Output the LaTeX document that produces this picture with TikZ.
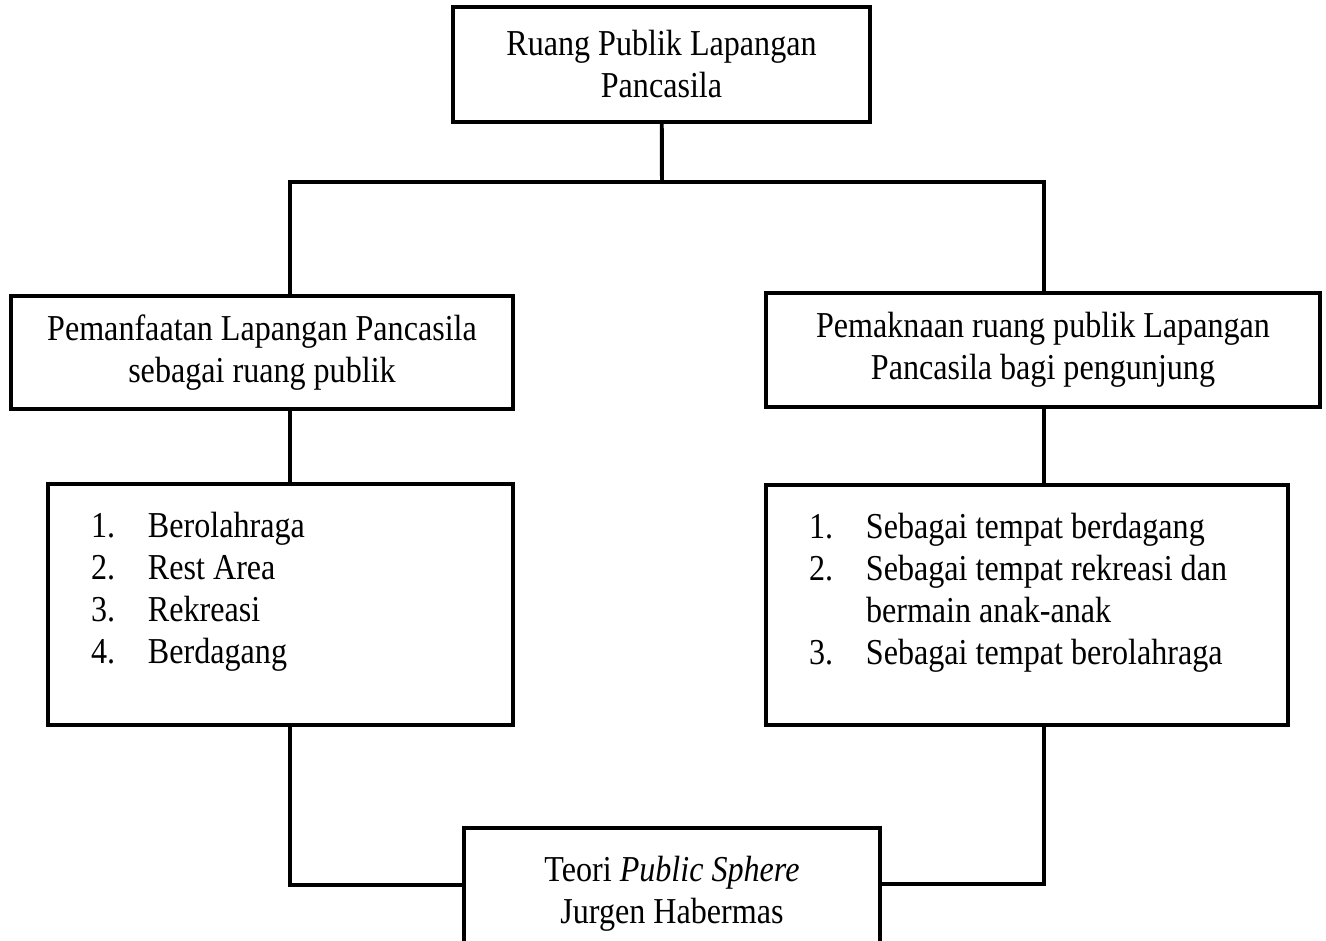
\documentclass[tikz,border=0pt]{standalone}
\usepackage{fontspec}
\setmainfont[FakeStretch=0.88]{Liberation Serif}
\newlength\px
\setlength\px{0.3289pt}
\newcommand{\numitem}[2]{\hspace*{43\px}\makebox[57\px][l]{#1}#2}
\tikzstyle{block} = [rectangle, draw=black, line width=1.3pt, inner sep=0pt, align=center, font=\fontsize{12}{13.8}\selectfont]
\tikzstyle{listbox} = [rectangle, draw=black, line width=1.3pt, inner sep=0pt, font=\fontsize{12}{13.8}\selectfont]
\tikzstyle{link} = [line width=1.3pt, line cap=rect]

\begin{document}
\begin{tikzpicture}[x=0.3289pt, y=-0.3289pt]

\useasboundingbox (0,0) rectangle (1326,941);
\clip (0,0) rectangle (1326,941);

\node (ruang) [block, minimum width=417\px, minimum height=115\px] at (661.5,64.5) {Ruang Publik Lapangan\\Pancasila};
\node (manfaat) [block, minimum width=502\px, minimum height=113\px] at (262,352.5) {Pemanfaatan Lapangan Pancasila\\sebagai ruang publik};
\node (makna) [block, minimum width=554\px, minimum height=114\px] at (1043,350) {Pemaknaan ruang publik Lapangan\\Pancasila bagi pengunjung};
\node (manfaatlist) [listbox, minimum width=465\px, minimum height=241\px] at (280.5,604.5) {\parbox[c][185\px][t]{465\px}{%
\numitem{1.}{Berolahraga}\\
\numitem{2.}{Rest Area}\\
\numitem{3.}{Rekreasi}\\
\numitem{4.}{Berdagang}}};
\node (maknalist) [listbox, minimum width=522\px, minimum height=240\px] at (1027,605) {\parbox[c][184\px][t]{522\px}{%
\numitem{1.}{Sebagai tempat berdagang}\\
\numitem{2.}{Sebagai tempat rekreasi dan}\\
\numitem{}{bermain anak-anak}\\
\numitem{3.}{Sebagai tempat berolahraga}}};
\node (teori) [block, minimum width=416\px, minimum height=132\px] at (672,894) {Teori \textit{Public Sphere}\\Jurgen Habermas};

\coordinate (split) at (662,182);
\coordinate (splitL) at (290,182);
\coordinate (splitR) at (1044,182);
\coordinate (joinL) at (290,885);
\coordinate (joinR) at (1044,884);

\draw [link] (ruang) -- (split);
\draw [link] (splitL) -- (splitR);
\draw [link] (splitL) -- (splitL |- manfaat.north);
\draw [link] (splitR) -- (splitR |- makna.north);
\draw [link] (splitL |- manfaat.south) -- (splitL |- manfaatlist.north);
\draw [link] (splitR |- makna.south) -- (splitR |- maknalist.north);
\draw [link] (splitL |- manfaatlist.south) -- (joinL) -- (joinL -| teori.west);
\draw [link] (splitR |- maknalist.south) -- (joinR) -- (joinR -| teori.east);

\end{tikzpicture}
\end{document}
